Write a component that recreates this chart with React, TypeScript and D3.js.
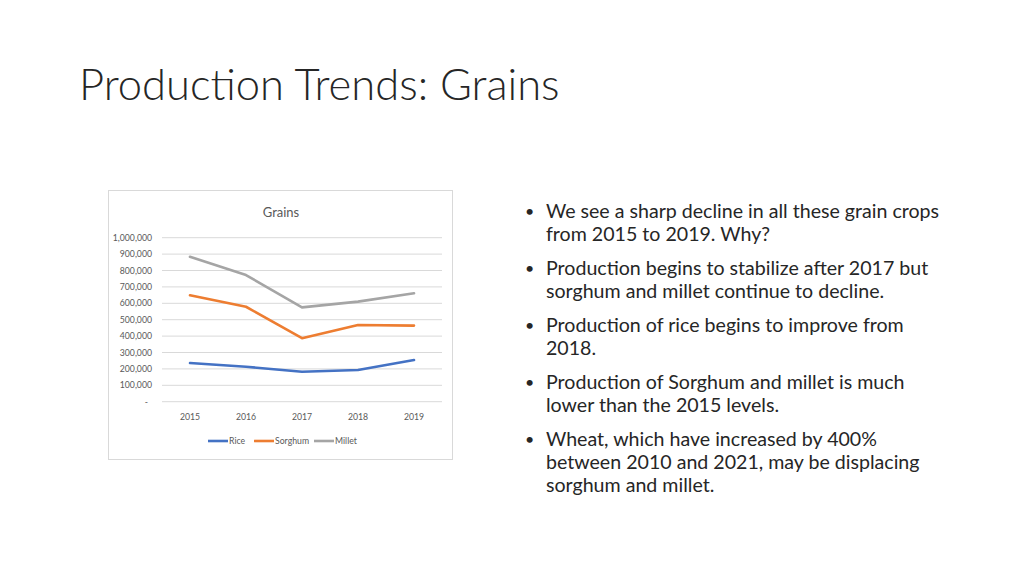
import React from "react";
import * as d3 from "d3";

const years = ["2015", "2016", "2017", "2018", "2019"];
const rice = [236000, 213000, 183000, 193000, 254000];
const sorghum = [649000, 579000, 387000, 468000, 464000];
const millet = [884000, 772000, 575000, 610000, 661000];
const yTicks = [0, 100000, 200000, 300000, 400000, 500000, 600000, 700000, 800000, 900000, 1000000];

const seriesList = [
  { name: "Rice", values: rice, color: "#4472C4" },
  { name: "Sorghum", values: sorghum, color: "#ED7D31" },
  { name: "Millet", values: millet, color: "#A5A5A5" },
];

const bullets = [
  ["We see a sharp decline in all these grain crops", "from 2015 to 2019. Why?"],
  ["Production begins to stabilize after 2017 but", "sorghum and millet continue to decline."],
  ["Production of rice begins to improve from", "2018."],
  ["Production of Sorghum and millet is much", "lower than the 2015 levels."],
  ["Wheat, which have increased by 400%", "between 2010 and 2021, may be displacing", "sorghum and millet."],
];

export default function App() {
  const x = d3.scaleBand<string>().domain(years).range([162, 442]);
  const y = d3.scaleLinear().domain([0, 1000000]).range([401.7, 237.7]);
  const fmt = (v: number) => (v === 0 ? "-" : d3.format(",")(v));
  const line = (vals: number[]) =>
    d3
      .line<number>()
      .x((_, i) => (x(years[i]) as number) + x.bandwidth() / 2)
      .y((d) => y(d))(vals) as string;

  const legendItems = [
    { x: 208, w: 20 },
    { x: 254, w: 20 },
    { x: 314, w: 20 },
  ];

  let by = 211;
  const bulletEls: React.ReactNode[] = [];
  bullets.forEach((b, bi) => {
    bulletEls.push(
      <text key={"d" + bi} x={525} y={by + 6} fontSize={16} fill="#262626">•</text>
    );
    b.forEach((l, li) => {
      bulletEls.push(
        <text key={bi + "-" + li} x={546} y={by + 6.5} fontSize={19.6} fill="#262626">{l}</text>
      );
      by += 23;
    });
    by += 11;
  });

  return (
    <svg width={1024} height={576} style={{ position: "absolute", left: 0, top: 0 }} fontFamily="Lato, 'Open Sans', sans-serif">
      <rect x={0} y={0} width={1024} height={576} fill="#fff" />
      <text x={79} y={100} fontSize={43.5} fontWeight={300} fill="#262626">Production Trends: Grains</text>

      <rect x={108.5} y={190.5} width={344} height={269} fill="#fff" stroke="#d9d9d9" />
      <text x={281} y={217} fontSize={13} textAnchor="middle" fill="#595959">Grains</text>

      {yTicks.map((t) => (
        <g key={t}>
          <line x1={162} x2={442} y1={y(t)} y2={y(t)} stroke="#d9d9d9" strokeWidth={1} />
          <text x={t === 0 ? 148 : 152} y={y(t) + 3} fontSize={8.7} textAnchor="end" fill="#595959">{fmt(t)}</text>
        </g>
      ))}
      {years.map((yr) => (
        <text key={yr} x={(x(yr) as number) + x.bandwidth() / 2} y={420} fontSize={8.7} textAnchor="middle" fill="#595959">{yr}</text>
      ))}

      {seriesList.map((s) => (
        <path key={s.name} d={line(s.values)} fill="none" stroke={s.color} strokeWidth={2.6} strokeLinejoin="round" strokeLinecap="round" />
      ))}

      {seriesList.map((s, i) => (
        <g key={"lg" + s.name}>
          <line x1={legendItems[i].x} x2={legendItems[i].x + legendItems[i].w} y1={441} y2={441} stroke={s.color} strokeWidth={2.6} />
          <text x={legendItems[i].x + legendItems[i].w + 1} y={444} fontSize={8.7} fill="#595959">{s.name}</text>
        </g>
      ))}

      {bulletEls}
    </svg>
  );
}
